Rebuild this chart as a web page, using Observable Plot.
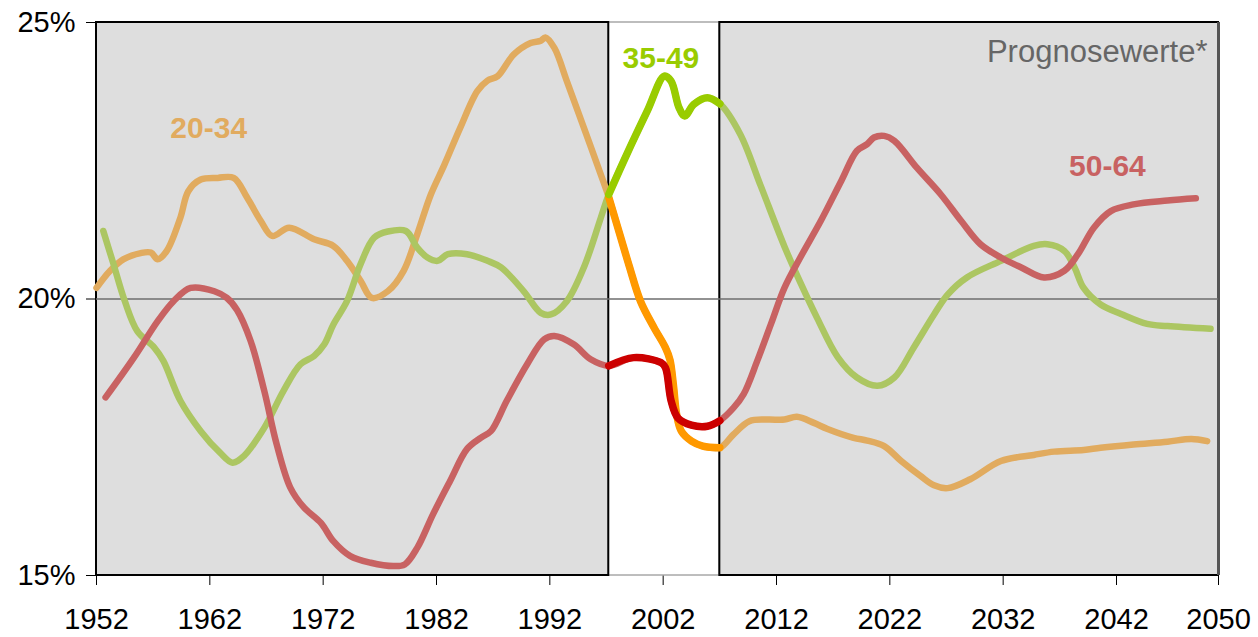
<!DOCTYPE html>
<html><head><meta charset="utf-8">
<script src="https://cdn.jsdelivr.net/npm/d3@7"></script>
<script src="https://cdn.jsdelivr.net/npm/@observablehq/plot@0.6"></script>
<style>body{margin:0;background:#fff}svg{display:block}</style>
</head><body><div id="chart"></div>
<script>
// ---- data ----
const years2034 = [1952.0,1953.2,1954.4,1955.9,1956.8,1957.4,1958.2,1959.4,1960.1,1961.2,1962.7,1964.1,1965.3,1966.5,1967.5,1969.0,1971.2,1972.9,1974.1,1975.3,1976.3,1977.7,1979.1,1980.3,1981.5,1982.7,1984.1,1985.6,1986.5,1987.4,1988.8,1990.3,1991.2,1991.6,1992.4,1993.5,1995.0,1996.5,1997.2,1998.2,1999.0,2000.0,2001.2,2002.2,2002.6,2002.9,2003.2,2003.6,2004.5,2005.5,2007.0,2008.2,2009.6,2011.2,2012.7,2013.8,2015.3,2016.5,2018.8,2020.0,2021.5,2023.0,2024.7,2025.9,2027.1,2029.1,2031.8,2034.7,2036.5,2039.1,2040.6,2043.5,2046.5,2048.6,2050.0];
const values2034 = [20.20,20.51,20.72,20.83,20.84,20.72,20.87,21.47,21.95,22.16,22.19,22.19,21.83,21.41,21.14,21.29,21.08,20.96,20.69,20.33,20.02,20.14,20.51,21.17,21.89,22.43,23.10,23.76,23.95,24.03,24.42,24.63,24.67,24.73,24.54,23.94,23.10,22.25,21.84,21.15,20.60,19.96,19.48,19.12,18.90,18.45,17.90,17.61,17.43,17.34,17.31,17.55,17.79,17.82,17.82,17.87,17.76,17.65,17.49,17.44,17.34,17.07,16.80,16.63,16.58,16.74,17.07,17.18,17.24,17.27,17.31,17.37,17.42,17.47,17.43];

const years3549 = [1952.6,1953.5,1954.5,1955.6,1957.1,1957.9,1959.4,1961.2,1962.9,1964.0,1965.0,1966.8,1968.5,1970.0,1971.2,1972.1,1972.9,1974.1,1975.3,1976.5,1977.7,1979.3,1980.3,1981.2,1982.1,1983.0,1984.7,1986.5,1987.7,1989.7,1991.2,1992.1,1993.5,1995.0,1996.5,1997.2,1998.8,2000.6,2002.1,2002.7,2003.4,2003.9,2004.7,2005.9,2007.0,2008.8,2010.6,2012.7,2014.1,2015.6,2017.4,2019.1,2020.9,2022.4,2024.1,2025.9,2027.1,2028.8,2031.8,2034.7,2035.9,2037.4,2038.3,2039.1,2040.6,2042.4,2044.7,2046.5,2050.3];
const values3549 = [21.23,20.63,19.96,19.42,19.12,18.88,18.16,17.61,17.22,17.04,17.16,17.67,18.34,18.82,18.97,19.18,19.54,19.96,20.63,21.11,21.22,21.23,20.93,20.75,20.69,20.81,20.81,20.69,20.57,20.14,19.75,19.72,19.96,20.57,21.47,21.89,22.62,23.40,24.03,23.94,23.46,23.31,23.52,23.64,23.53,22.98,22.05,20.95,20.30,19.65,18.95,18.58,18.43,18.58,19.12,19.72,20.08,20.39,20.69,20.96,20.99,20.87,20.57,20.20,19.90,19.73,19.55,19.51,19.46];

const years5064 = [1952.8,1955.3,1957.4,1958.8,1960.3,1962.4,1963.5,1964.4,1965.6,1966.8,1967.9,1969.1,1970.3,1971.8,1972.9,1974.4,1976.2,1978.2,1979.2,1980.3,1981.7,1983.2,1984.7,1985.9,1986.8,1988.2,1990.0,1991.5,1992.4,1994.1,1995.6,1997.2,1999.4,2001.8,2002.2,2002.7,2003.3,2004.5,2005.9,2007.0,2008.2,2009.1,2010.3,2011.5,2012.7,2014.1,2015.9,2017.7,2019.1,2020.0,2020.6,2021.5,2022.4,2024.4,2026.5,2028.3,2030.0,2031.8,2033.6,2035.6,2037.4,2038.6,2040.0,2041.5,2043.5,2046.5,2049.0];
const values5064 = [18.22,18.94,19.60,19.96,20.20,20.14,20.02,19.80,19.24,18.34,17.37,16.59,16.23,15.95,15.62,15.35,15.23,15.17,15.20,15.50,16.11,16.71,17.29,17.49,17.61,18.16,18.82,19.27,19.33,19.18,18.91,18.79,18.94,18.85,18.76,18.16,17.85,17.72,17.70,17.80,18.03,18.28,18.88,19.54,20.20,20.75,21.41,22.13,22.68,22.80,22.92,22.95,22.86,22.37,21.89,21.41,20.99,20.75,20.57,20.39,20.51,20.81,21.29,21.59,21.71,21.78,21.82];

const seriesNames = ["20-34", "35-49", "50-64"];
const mutedColors = ["#e1ab5f", "#acc662", "#c86262"];
const brightColors = ["#ff9900", "#99cc00", "#cc0000"];

const bandStarts = [1952, 1997.2, 2007];
const bandEnds = [1997.2, 2007, 2051];
const bandFills = ["#dedede", "#ffffff", "#dedede"];

const tickYears = [1952, 1962, 1972, 1982, 1992, 2002, 2012, 2022, 2032, 2042, 2051];
const tickLabels = ["1952", "1962", "1972", "1982", "1992", "2002", "2012", "2022", "2032", "2042", "2050"];
const yTicks = [15, 20, 25];

const labelYears = [1961.9, 2001.8, 2041.2];
const labelValues = [23.08, 24.35, 22.39];
const noteText = "Prognosewerte*";

// ---- build ----
const seriesData = [[years2034, values2034], [years3549, values3549], [years5064, values5064]]
  .map(([ys, vs], i) => ys.map((y, j) => ({series: seriesNames[i], year: y, value: vs[j]})));

const font = "'Liberation Sans', Arial, sans-serif";
const marks = [];

// white middle band
marks.push(Plot.rect([1], {x1: i => bandStarts[i], x2: i => bandEnds[i], y1: yTicks[0], y2: yTicks[2],
  fill: i => bandFills[i], stroke: "#a8a8a8", strokeWidth: 1.5}));
// grey bands
marks.push(Plot.rect([0, 2], {x1: i => bandStarts[i], x2: i => bandEnds[i], y1: yTicks[0], y2: yTicks[2],
  fill: i => bandFills[i], stroke: "#000", strokeWidth: 2}));
// darker right edge of the plot
marks.push(Plot.ruleX([bandEnds[2]], {y1: yTicks[0], y2: yTicks[2], stroke: "#555", strokeWidth: 3}));
// 20% gridline
marks.push(Plot.ruleY([yTicks[1]], {stroke: "#6e6e6e", strokeWidth: 1.3}));

// muted full lines
seriesData.forEach((data, i) => {
  marks.push(Plot.line(data, {x: "year", y: "value", stroke: mutedColors[i], strokeWidth: 6.5, curve: "catmull-rom"}));
});
// bright highlighted segments in the white band
seriesData.forEach((data, i) => {
  const seg = data.filter(d => d.year >= bandStarts[1] && d.year <= bandEnds[1]);
  marks.push(Plot.line(seg, {x: "year", y: "value", stroke: brightColors[i], strokeWidth: 7.5, curve: "catmull-rom"}));
});

// series labels
seriesNames.forEach((name, i) => {
  marks.push(Plot.text([name], {x: labelYears[i], y: labelValues[i], text: d => d, fill: i === 1 ? brightColors[i] : mutedColors[i],
    fontWeight: "bold", fontSize: 30, fontFamily: font, lineAnchor: "middle"}));
});
// note
marks.push(Plot.text([noteText], {frameAnchor: "top-right", text: d => d, dx: -11, dy: 17, fill: "#666666",
  fontSize: 31, fontFamily: font, textAnchor: "end", lineAnchor: "top"}));

const chart = Plot.plot({
  width: 1258,
  height: 637,
  marginLeft: 96,
  marginRight: 40,
  marginTop: 22,
  marginBottom: 62,
  style: {fontFamily: font, fontSize: "29px", color: "#000", background: "#fff"},
  x: {domain: [bandStarts[0], bandEnds[2]], ticks: tickYears, tickFormat: d => tickLabels[tickYears.indexOf(d)],
      tickSize: 10, tickPadding: 23, label: null},
  y: {domain: [yTicks[0], yTicks[2]], ticks: yTicks, tickFormat: d => d + "%", tickSize: 10, tickPadding: 11, label: null},
  marks
});
document.getElementById("chart").appendChild(chart);
</script>
</body></html>
